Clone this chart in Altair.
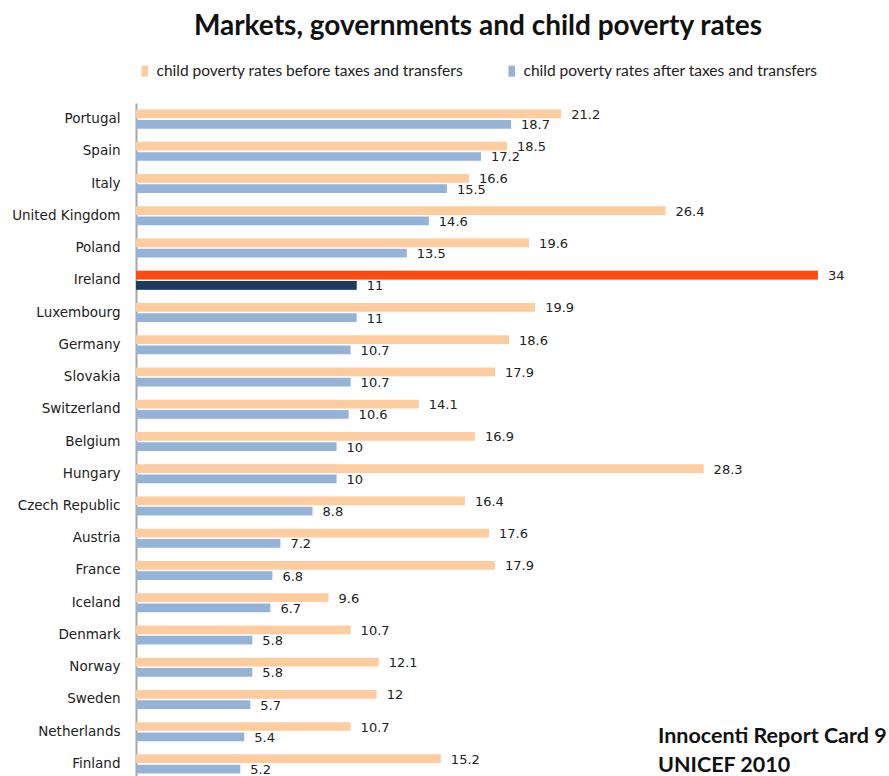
import altair as alt
import pandas as pd

countries = ["Portugal", "Spain", "Italy", "United Kingdom", "Poland", "Ireland",
             "Luxembourg", "Germany", "Slovakia", "Switzerland", "Belgium", "Hungary",
             "Czech Republic", "Austria", "France", "Iceland", "Denmark", "Norway",
             "Sweden", "Netherlands", "Finland"]
before = [21.2, 18.5, 16.6, 26.4, 19.6, 34, 19.9, 18.6, 17.9, 14.1, 16.9, 28.3,
          16.4, 17.6, 17.9, 9.6, 10.7, 12.1, 12, 10.7, 15.2]
after = [18.7, 17.2, 15.5, 14.6, 13.5, 11, 11, 10.7, 10.7, 10.6, 10, 10,
         8.8, 7.2, 6.8, 6.7, 5.8, 5.8, 5.7, 5.4, 5.2]
series_names = ["child poverty rates before taxes and transfers",
                "child poverty rates after taxes and transfers"]
series_colors = ["#FFCC9F", "#95B3D7"]
highlight_country = "Ireland"
highlight_colors = ["#FF4A14", "#1F3A5F"]
footer_lines = ["Innocenti Report Card 9", "UNICEF 2010"]

rows = []
for i, c in enumerate(countries):
    for s, vals, hc in zip(series_names, [before, after], highlight_colors):
        v = vals[i]
        rows.append({"country": c, "series": s, "value": v,
                     "label": f"{v:g}", "hcolor": hc})
df = pd.DataFrame(rows)

y_enc = alt.Y("country:N", sort=countries, title=None,
              scale=alt.Scale(paddingInner=0.41, paddingOuter=0.205),
              axis=alt.Axis(domainColor="#A6A6A6", domainWidth=2, ticks=False,
                            labelPadding=16, labelFont="DejaVu Sans", labelFontSize=13.5,
                            labelColor="#222222", grid=False))
yoff = alt.YOffset("series:N", sort=series_names,
                   scale=alt.Scale(paddingInner=0.15, paddingOuter=0))
x_enc = alt.X("value:Q", scale=alt.Scale(domain=[0, 35], nice=False), axis=None)

base = alt.Chart(df)

bars = base.mark_bar().encode(
    x=x_enc, y=y_enc, yOffset=yoff,
    color=alt.Color("series:N", sort=series_names,
                    scale=alt.Scale(domain=series_names, range=series_colors),
                    legend=alt.Legend(title=None, orient="none", direction="horizontal",
                                      legendX=1, legendY=-40,
                                      symbolType="M-0.6,-1H0.6V1H-0.6Z",
                                      symbolSize=121, symbolStrokeWidth=0,
                                      labelFont="Lato", labelFontSize=15.5,
                                      labelLimit=500,
                                      labelColor="#222222", columnPadding=41,
                                      labelOffset=4)),
)

hl = base.transform_filter(alt.datum.country == highlight_country).mark_bar().encode(
    x=x_enc, y=y_enc, yOffset=yoff,
    color=alt.Color("hcolor:N", scale=None),
)

labels = base.mark_text(align="left", baseline="middle", dx=10, dy=1,
                        font="DejaVu Sans", fontSize=13, color="#222222").encode(
    x=x_enc, y=y_enc, yOffset=yoff, text="label:N",
)

foot1 = alt.Chart(pd.DataFrame({"t": [footer_lines[0]]})).mark_text(
    align="left", baseline="middle", font="Lato", fontSize=21.5, fontWeight="bold",
    color="#111111").encode(text="t:N", x=alt.value(522), y=alt.value(634))
foot2 = alt.Chart(pd.DataFrame({"t": [footer_lines[1]]})).mark_text(
    align="left", baseline="middle", font="Lato", fontSize=21.5, fontWeight="bold",
    color="#111111").encode(text="t:N", x=alt.value(522), y=alt.value(663))

chart = alt.layer(bars, hl, labels, foot1, foot2).properties(
    width=702, height=677,
    autosize=alt.AutoSizeParams(type="none"),
    padding={"left": 136, "top": 103, "right": 51, "bottom": 0},
    title=alt.TitleParams("Markets, governments and child poverty rates",
                          font="Lato", fontSize=28, fontWeight="bold",
                          color="#111111", anchor="middle", dx=-9, offset=22),
).configure(background="white").configure_view(stroke=None)

chart.save("out.html", embed_options={"renderer": "svg", "actions": False})
